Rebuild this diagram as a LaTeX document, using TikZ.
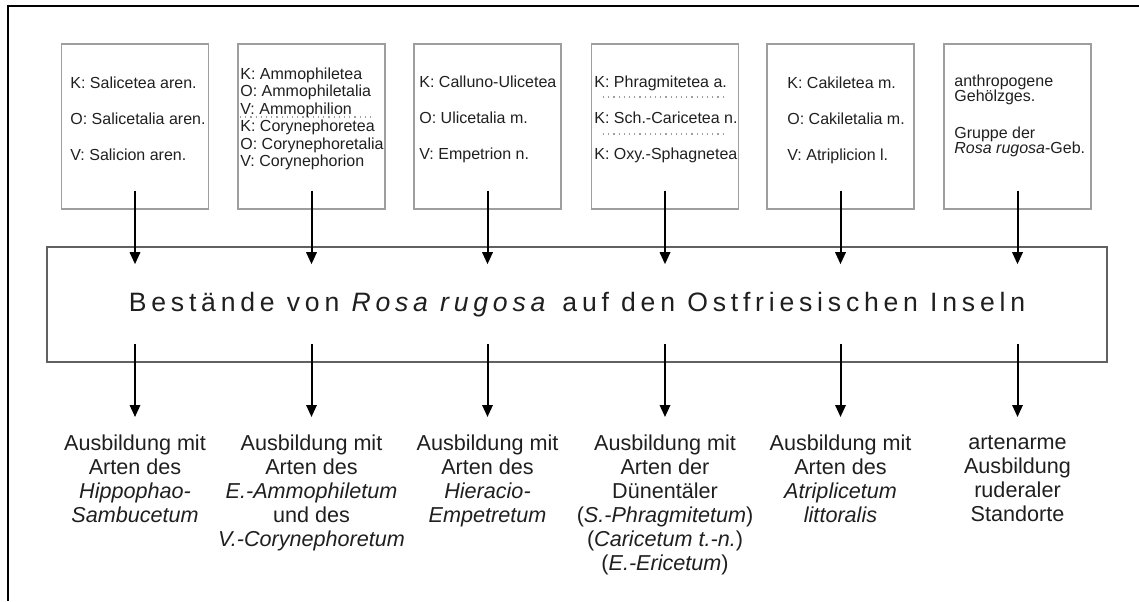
\documentclass[tikz,border=0pt]{standalone}
\usepackage{fontspec}
\setmainfont{Liberation Sans}
\newfontfamily\titlefont[LetterSpace=18]{Liberation Sans}
\usetikzlibrary{arrows.meta}

\definecolor{boxgray}{gray}{0.62}
\definecolor{maingray}{gray}{0.38}
\definecolor{ink}{gray}{0.12}

\tikzset{
    unit/.style={draw=boxgray, line width=0.6pt, minimum width=73.5pt,
        minimum height=82.5pt, inner sep=0pt},
    unittext/.style={anchor=north west, inner sep=0pt, align=left, text=ink,
        font=\fontsize{8}{18}\selectfont},
    stand/.style={draw=maingray, line width=0.8pt, minimum width=530pt,
        minimum height=57.5pt, inner sep=0pt, text=ink,
        font=\titlefont\fontsize{13.3}{16}\selectfont},
    outcome/.style={anchor=north, inner sep=0pt, align=center, text=ink,
        font=\fontsize{10.8}{12}\selectfont},
    arr/.style={-{Triangle[width=5.2pt,length=6pt]}, line width=1pt},
    sep/.style={draw=boxgray, line width=0.6pt, dotted},
    frame/.style={line width=1pt}
}

\newcommand{\unitbox}[2]{
    \node[unit] (#2) at (#1, 126.5) {};
}
\newcommand{\unitlabel}[4][]{
    \node[unittext, #1] (#3) at (#2) {#4};
}
\newcommand{\outcome}[3]{
    \node[outcome] (#2) at (#1, 434) {#3};
}

\begin{document}
\begin{tikzpicture}[x=0.5pt, y=-0.5pt]
    \useasboundingbox (0,0) rectangle (1139,601);
    \draw[frame] (8,601) -- (8,6) -- (1139,6);

    % Syntaxa
    \unitbox{135}{b1};
    \unitbox{311.5}{b2};
    \unitbox{487.5}{b3};
    \unitbox{665}{b4};
    \unitbox{840.5}{b5};
    \unitbox{1017.5}{b6};

    \unitlabel{70,76.5}{l1}{K: Salicetea aren.\\O: Salicetalia aren.\\V: Salicion aren.};
    \unitlabel[font=\fontsize{8}{8.7}\selectfont]{240,67.5}{l2}{K: Ammophiletea\\O: Ammophiletalia\\V: Ammophilion\\K: Corynephoretea\\O: Corynephoretalia\\V: Corynephorion};
    \unitlabel{419,75.5}{l3}{K: Calluno-Ulicetea\\O: Ulicetalia m.\\V: Empetrion n.};
    \unitlabel{594,75.5}{l4}{K: Phragmitetea a.\\K: Sch.-Caricetea n.\\K: Oxy.-Sphagnetea};
    \unitlabel{787,76.5}{l5}{K: Cakiletea m.\\O: Cakiletalia m.\\V: Atriplicion l.};
    \unitlabel[font=\fontsize{8}{7.5}\selectfont]{954,74.5}{l6}{anthropogene\\Geh\"olzges.\\[11pt]Gruppe der\\\textit{Rosa rugosa}-Geb.};

    \draw[sep] (240,117) -- (372,117);
    \draw[sep] (603,97) -- (727,97);
    \draw[sep] (603,134) -- (727,134);

    % Bestaende
    \node[stand] (main) at (577,304.5) {Best\"ande von \textit{Rosa rugosa} auf den Ostfriesischen Inseln};

    \draw[arr, shorten <=-9.5pt, shorten >=-9pt] (b1.south) -- (b1.south |- main.north);
    \draw[arr, shorten <=-9.5pt, shorten >=-9pt] (b2.south) -- (b2.south |- main.north);
    \draw[arr, shorten <=-9.5pt, shorten >=-9pt] (b3.south) -- (b3.south |- main.north);
    \draw[arr, shorten <=-9.5pt, shorten >=-9pt] (b4.south) -- (b4.south |- main.north);
    \draw[arr, shorten <=-9.5pt, shorten >=-9pt] (b5.south) -- (b5.south |- main.north);
    \draw[arr, shorten <=-9.5pt, shorten >=-9pt] (b6.south) -- (b6.south |- main.north);

    % Ausbildungen
    \outcome{135}{a1}{Ausbildung mit\\Arten des\\\textit{Hippophao-}\\\textit{Sambucetum}};
    \outcome{311.5}{a2}{Ausbildung mit\\Arten des\\\textit{E.-Ammophiletum}\\und des\\\textit{V.-Corynephoretum}};
    \outcome{487.5}{a3}{Ausbildung mit\\Arten des\\\textit{Hieracio-}\\\textit{Empetretum}};
    \outcome{665}{a4}{Ausbildung mit\\Arten der\\D\"unent\"aler\\(\textit{S.-Phragmitetum})\\(\textit{Caricetum t.-n.})\\(\textit{E.-Ericetum})};
    \outcome{840.5}{a5}{Ausbildung mit\\Arten des\\\textit{Atriplicetum}\\\textit{littoralis}};
    \outcome{1017.5}{a6}{\vphantom{A}artenarme\\Ausbildung\\ruderaler\\Standorte};

    \draw[arr, shorten <=-9.5pt, shorten >=8.5pt] (a1.north |- main.south) -- (a1.north);
    \draw[arr, shorten <=-9.5pt, shorten >=8.5pt] (a2.north |- main.south) -- (a2.north);
    \draw[arr, shorten <=-9.5pt, shorten >=8.5pt] (a3.north |- main.south) -- (a3.north);
    \draw[arr, shorten <=-9.5pt, shorten >=8.5pt] (a4.north |- main.south) -- (a4.north);
    \draw[arr, shorten <=-9.5pt, shorten >=8.5pt] (a5.north |- main.south) -- (a5.north);
    \draw[arr, shorten <=-9.5pt, shorten >=8.5pt] (a6.north |- main.south) -- (a6.north);
\end{tikzpicture}
\end{document}
